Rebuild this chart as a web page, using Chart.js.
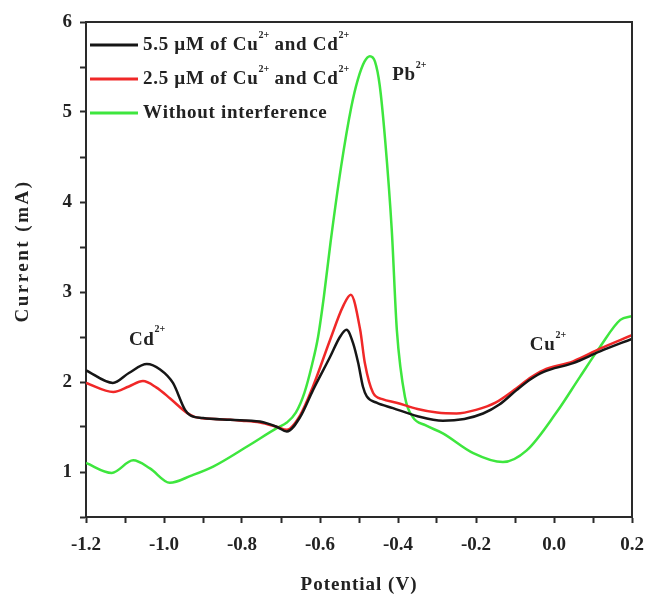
<!DOCTYPE html>
<html>
<head>
<meta charset="utf-8">
<script src="https://cdn.jsdelivr.net/npm/chart.js@4"></script>
<style>
  html, body { margin: 0; padding: 0; background: #fff; }
  #wrap { width: 646px; height: 597px; position: relative; }
</style>
</head>
<body>
<div id="wrap"><canvas id="c"></canvas></div>
<script>
// Stripping voltammograms: Pb2+ with / without Cu2+ and Cd2+ interference
const seriesLabels = ['5.5 \u00b5M of Cu\u00b2\u207a and Cd\u00b2\u207a',
                      '2.5 \u00b5M of Cu\u00b2\u207a and Cd\u00b2\u207a',
                      'Without interference'];
const seriesColors = ['#161616', '#f02828', '#3ee63e'];
const xTitle = 'Potential (V)';
const yTitle = 'Current (mA)';

const blackV = [-1.2, -1.131, -1.09, -1.044, -1.01, -0.977, -0.946, -0.933, -0.9, -0.83, -0.754, -0.71, -0.685,
  -0.651, -0.618, -0.574, -0.549, -0.532, -0.515, -0.502, -0.49, -0.48, -0.455, -0.413, -0.35, -0.285, -0.23,
  -0.182, -0.14, -0.096, -0.06, -0.028, 0.049, 0.118, 0.2];
const blackI = [2.13, 1.99, 2.10, 2.20, 2.14, 1.99, 1.69, 1.63, 1.60, 1.58, 1.56, 1.50, 1.45,
  1.61, 1.91, 2.28, 2.50, 2.58, 2.43, 2.21, 1.95, 1.84, 1.77, 1.71, 1.62, 1.57, 1.59,
  1.65, 1.75, 1.91, 2.03, 2.11, 2.21, 2.34, 2.48];

const redV = [-1.2, -1.13, -1.09, -1.054, -1.02, -0.985, -0.942, -0.92, -0.87, -0.8, -0.754, -0.71, -0.685,
  -0.651, -0.618, -0.574, -0.541, -0.521, -0.497, -0.485, -0.464, -0.44, -0.404, -0.35, -0.30, -0.25, -0.2,
  -0.15, -0.096, -0.06, -0.028, 0.049, 0.118, 0.2];
const redI = [1.99, 1.89, 1.95, 2.01, 1.94, 1.82, 1.66, 1.61, 1.59, 1.57, 1.55, 1.50, 1.47,
  1.63, 1.95, 2.47, 2.84, 2.97, 2.58, 2.21, 1.88, 1.81, 1.77, 1.70, 1.66, 1.65, 1.69,
  1.77, 1.93, 2.05, 2.13, 2.23, 2.37, 2.52];

const greenV = [-1.2, -1.134, -1.079, -1.036, -0.985, -0.93, -0.874, -0.788, -0.71, -0.685, -0.662, -0.64, -0.62,
  -0.605, -0.59, -0.573, -0.546, -0.52, -0.503, -0.486, -0.472, -0.459, -0.447, -0.433, -0.416, -0.403, -0.382,
  -0.362, -0.33, -0.285, -0.207, -0.131, -0.07, 0.006, 0.067, 0.118, 0.17, 0.2];
const greenI = [1.10, 0.99, 1.13, 1.04, 0.88, 0.96, 1.06, 1.28, 1.49, 1.55, 1.66, 1.88, 2.20,
  2.50, 2.95, 3.55, 4.39, 5.05, 5.36, 5.56, 5.62, 5.56, 5.30, 4.69, 3.69, 2.58, 1.83,
  1.61, 1.52, 1.43, 1.21, 1.11, 1.24, 1.66, 2.06, 2.39, 2.69, 2.73];

const peakLabels = ['Cd\u00b2\u207a', 'Pb\u00b2\u207a', 'Cu\u00b2\u207a'];
const peakV = [-1.09, -0.415, -0.062];
const peakI = [2.47, 5.41, 2.41];

const pts = (xs, ys) => xs.map((x, i) => ({ x, y: ys[i] }));
const serif = '"Liberation Serif", "Times New Roman", serif';
const sup = { '\u00b2': '2', '\u207a': '+' };

// text with small raised superscripts
function richText(ctx, text, x, y) {
  for (const ch of text) {
    if (sup[ch]) {
      ctx.font = 'bold 10px ' + serif; ctx.letterSpacing = '0px';
      ctx.fillText(sup[ch], x, y - 10);
      x += ctx.measureText(sup[ch]).width;
    } else {
      ctx.font = 'bold 19px ' + serif; ctx.letterSpacing = '0.7px';
      ctx.fillText(ch, x, y);
      x += ctx.measureText(ch).width;
    }
  }
}

// frame, axis titles, legend and peak labels
const extras = {
  id: 'extras',
  afterDraw(chart) {
    const { ctx, chartArea: a, scales } = chart;
    ctx.save();
    ctx.strokeStyle = '#2a2a2a';
    ctx.lineWidth = 2;
    ctx.beginPath();
    ctx.moveTo(a.left, a.top); ctx.lineTo(a.right, a.top); ctx.lineTo(a.right, a.bottom);
    ctx.stroke();

    ctx.fillStyle = '#222';
    ctx.textAlign = 'center';
    ctx.textBaseline = 'middle';
    ctx.font = 'bold 19px ' + serif;
    ctx.letterSpacing = '1px';
    ctx.fillText(xTitle, (a.left + a.right) / 2, 585);
    ctx.save();
    ctx.translate(23, 251);
    ctx.rotate(-Math.PI / 2);
    ctx.letterSpacing = '2.5px';
    ctx.fillText(yTitle, 0, 0);
    ctx.restore();

    ctx.textAlign = 'left';
    chart.data.datasets.forEach((ds, i) => {
      const y = a.top + 23 + i * 34;
      ctx.strokeStyle = ds.borderColor;
      ctx.lineWidth = 3;
      ctx.beginPath(); ctx.moveTo(a.left + 4, y); ctx.lineTo(a.left + 52, y); ctx.stroke();
      richText(ctx, ds.label, a.left + 57, y);
    });

    peakLabels.forEach((t, i) => {
      richText(ctx, t, scales.x.getPixelForValue(peakV[i]), scales.y.getPixelForValue(peakI[i]));
    });
    ctx.restore();
  }
};

new Chart(document.getElementById('c'), {
  type: 'line',
  data: {
    datasets: [
      { label: seriesLabels[0], data: pts(blackV, blackI), borderColor: seriesColors[0] },
      { label: seriesLabels[1], data: pts(redV, redI), borderColor: seriesColors[1] },
      { label: seriesLabels[2], data: pts(greenV, greenI), borderColor: seriesColors[2] },
    ],
  },
  options: {
    responsive: true, maintainAspectRatio: false, animation: false,
    layout: { padding: { left: 0, right: 14, top: 22, bottom: 0 } },
    elements: {
      point: { radius: 0 },
      line: { borderWidth: 2.5, cubicInterpolationMode: 'monotone', fill: false },
    },
    plugins: { legend: { display: false }, tooltip: { enabled: false } },
    scales: {
      x: {
        type: 'linear', min: -1.2, max: 0.2,
        afterFit: s => { s.height = 80; s.paddingLeft = 0; s.paddingRight = 0; },
        grid: { drawOnChartArea: false, tickLength: 6, tickWidth: 2, tickColor: '#2a2a2a' },
        border: { color: '#2a2a2a', width: 2 },
        ticks: {
          stepSize: 0.1, padding: 11, color: '#222', maxRotation: 0, autoSkip: false,
          font: { family: serif, size: 19, weight: 'bold' },
          callback: v => Math.abs(Math.round(v * 10)) % 2 === 0 ? (Math.round(v * 10) / 10).toFixed(1) : '',
        },
      },
      y: {
        min: 0.5, max: 6,
        afterFit: s => { s.width = 86; },
        grid: { drawOnChartArea: false, tickLength: 6, tickWidth: 2, tickColor: '#2a2a2a' },
        border: { color: '#2a2a2a', width: 2 },
        ticks: {
          stepSize: 0.5, padding: 8, color: '#222', autoSkip: false,
          font: { family: serif, size: 19, weight: 'bold' },
          callback: v => Number.isInteger(v) ? String(v) : '',
        },
      },
    },
  },
  plugins: [extras],
});
</script>
</body>
</html>
